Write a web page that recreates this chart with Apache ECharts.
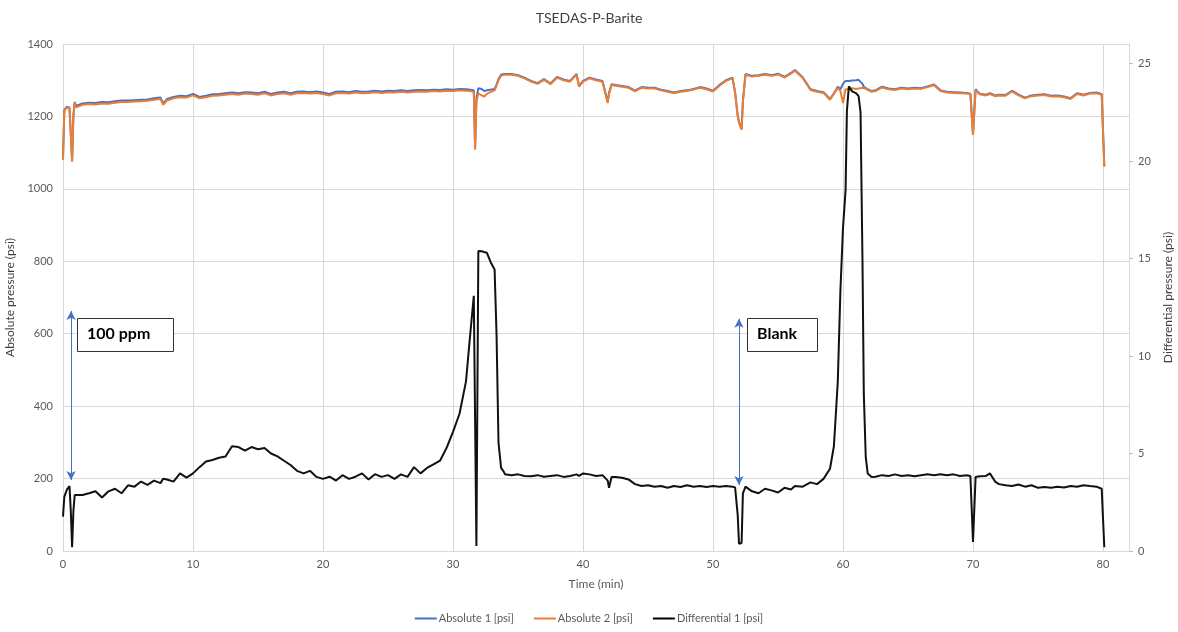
<!DOCTYPE html>
<html>
<head>
<meta charset="utf-8">
<script src="https://cdn.jsdelivr.net/npm/echarts@6/dist/echarts.min.js"></script>
<style>
html,body{margin:0;padding:0;background:#fff;}
#chart{width:1178px;height:632px;}
</style>
</head>
<body>
<div id="chart"></div>
<script>
// Time (min)
const timeMin = [
0,0.1,0.3,0.5,0.6,0.7,0.8,0.9,1,1.5,
2,2.5,3,3.5,4,4.5,5,5.5,6,6.5,
7,7.5,7.7,8,8.5,9,9.5,10,10.5,11,
11.5,12,12.5,13,13.5,14,14.5,15,15.5,16,
16.5,17,17.5,18,18.5,19,19.5,20,20.5,21,
21.5,22,22.5,23,23.5,24,24.5,25,25.5,26,
26.5,27,27.5,28,28.5,29,29.5,30,30.5,31,
31.3,31.6,31.7,31.8,31.95,32.2,32.4,32.6,32.9,33.2,
33.35,33.5,33.7,33.9,34,34.5,35,35.5,36,36.5,
37,37.5,38,38.5,39,39.5,39.7,40,40.5,41,
41.5,41.9,42,42.2,42.5,43,43.5,44,44.5,45,
45.5,46,46.5,47,47.5,48,48.5,49,49.5,50,
50.5,51,51.5,51.7,51.9,52,52.2,52.3,52.5,53,
53.5,54,54.5,55,55.5,56,56.3,56.9,57.5,58,
58.5,59,59.3,59.6,59.8,60,60.2,60.3,60.45,60.7,
61,61.2,61.35,61.5,61.6,61.75,61.9,62.2,62.5,63,
63.5,64,64.5,65,65.5,66,66.5,67,67.5,68,
68.5,69,69.5,69.8,70,70.2,70.5,71,71.3,71.7,
72,72.5,73,73.5,74,74.5,75,75.5,76,76.5,
77,77.5,78,78.5,79,79.5,79.9,80.1
];
// Absolute 1 [psi]
const absolute1 = [
1085,1218,1227,1224,1152,1078,1203,1240,1229,1236,
1238,1237,1240,1239,1242,1244,1244,1245,1246,1247,
1250,1252,1236,1248,1254,1257,1256,1262,1254,1257,
1261,1262,1264,1266,1264,1267,1266,1264,1268,1262,
1266,1268,1264,1268,1269,1267,1269,1266,1262,1268,
1269,1267,1270,1268,1269,1271,1269,1271,1270,1272,
1270,1272,1273,1272,1274,1273,1275,1274,1276,1275,
1274,1272,1115,1250,1278,1276,1270,1272,1274,1276,
1288,1303,1315,1317,1316,1317,1314,1307,1298,1292,
1303,1291,1309,1302,1298,1317,1284,1298,1307,1302,
1298,1240,1265,1289,1287,1284,1281,1271,1281,1279,
1279,1274,1270,1266,1270,1272,1276,1281,1277,1271,
1287,1300,1307,1267,1203,1185,1166,1243,1317,1312,
1314,1317,1314,1318,1309,1320,1328,1308,1275,1270,
1267,1248,1264,1282,1275,1290,1298,1299,1298,1299,
1300,1301,1298,1290,1282,1278,1275,1270,1272,1282,
1277,1275,1279,1277,1279,1278,1283,1288,1272,1268,
1267,1266,1265,1263,1152,1275,1263,1260,1264,1258,
1260,1259,1271,1260,1252,1258,1260,1261,1257,1258,
1255,1250,1264,1260,1265,1266,1262,1064
];
// Absolute 2 [psi]
const absolute2 = [
1080,1215,1225,1222,1150,1075,1200,1238,1225,1232,
1234,1233,1236,1235,1238,1240,1240,1241,1242,1243,
1246,1248,1232,1244,1250,1253,1252,1258,1250,1253,
1257,1258,1260,1262,1260,1263,1262,1260,1264,1258,
1262,1264,1260,1264,1265,1263,1265,1262,1258,1264,
1265,1263,1266,1264,1265,1267,1265,1267,1266,1268,
1266,1268,1269,1268,1270,1269,1271,1270,1272,1271,
1270,1268,1108,1240,1264,1258,1255,1262,1268,1272,
1285,1300,1312,1315,1314,1315,1312,1305,1296,1290,
1301,1289,1307,1300,1296,1315,1282,1296,1305,1300,
1296,1237,1262,1287,1285,1282,1279,1269,1279,1277,
1277,1272,1268,1264,1268,1270,1274,1279,1275,1269,
1285,1298,1305,1264,1200,1182,1163,1240,1315,1310,
1312,1315,1312,1316,1307,1318,1326,1306,1273,1268,
1265,1246,1262,1279,1270,1237,1275,1274,1276,1278,
1276,1277,1278,1279,1278,1276,1273,1268,1270,1280,
1275,1273,1277,1275,1277,1276,1281,1286,1270,1266,
1265,1264,1263,1261,1149,1273,1261,1258,1262,1256,
1258,1257,1269,1258,1250,1256,1258,1259,1255,1256,
1253,1248,1262,1258,1263,1264,1260,1061
];
// Differential 1 [psi]
const differential1 = [
1.76,2.78,3.15,3.33,2.04,0.19,2.04,2.87,2.78,2.87,
2.96,3.06,2.74,3.06,3.19,2.96,3.37,3.30,3.56,3.39,
3.61,3.48,3.70,3.67,3.56,3.98,3.76,3.98,4.30,4.59,
4.67,4.78,4.85,5.37,5.33,5.15,5.33,5.22,5.28,5.00,
4.85,4.63,4.41,4.11,3.98,4.11,3.80,3.70,3.81,3.61,
3.89,3.70,3.81,3.98,3.67,3.94,3.80,3.89,3.70,3.93,
3.80,4.30,3.98,4.26,4.44,4.63,5.28,6.11,7.04,8.70,
10.93,13.09,6.70,0.26,15.39,15.37,15.33,15.30,14.81,14.44,
11.10,5.56,4.26,4.07,3.93,3.89,3.93,3.85,3.83,3.89,
3.81,3.85,3.89,3.80,3.85,3.93,3.85,3.98,3.93,3.85,
3.89,3.61,3.24,3.80,3.80,3.76,3.67,3.43,3.33,3.37,
3.30,3.33,3.24,3.33,3.28,3.37,3.30,3.33,3.28,3.33,
3.30,3.33,3.30,3.26,1.85,0.37,0.41,2.96,3.30,3.06,
2.96,3.19,3.11,3.00,3.24,3.15,3.33,3.30,3.52,3.43,
3.70,4.22,5.37,8.70,13.33,16.57,18.52,22.56,23.83,23.57,
23.48,23.33,22.50,14.81,8.07,4.81,3.98,3.80,3.81,3.89,
3.85,3.93,3.85,3.89,3.83,3.89,3.93,3.89,3.93,3.89,
3.93,3.85,3.89,3.85,0.46,3.80,3.83,3.85,3.98,3.56,
3.43,3.37,3.33,3.41,3.30,3.37,3.24,3.28,3.24,3.30,
3.26,3.33,3.30,3.37,3.33,3.30,3.19,0.19
];
// Annotation arrows: [time, top abs value, bottom abs value]
const arrow100ppm = [0.62, 663, 196];
const arrowBlank = [52.0, 641, 182];
const annotationLabels = ['100 ppm', 'Blank'];

const FONT = 'Lato, "Liberation Sans", sans-serif';
const GRAY = '#595959';
const GRID = '#d9d9d9';

const pair = arr => timeMin.map((t, i) => [t, arr[i]]);

const chart = echarts.init(document.getElementById('chart'), null, {renderer: 'canvas'});
chart.setOption({
  animation: false,
  backgroundColor: '#fff',
  textStyle: {fontFamily: FONT},
  title: {
    text: 'TSEDAS-P-Barite',
    left: 'center',
    top: 6,
    textStyle: {fontFamily: FONT, fontSize: 14, fontWeight: 'normal', color: '#404040'}
  },
  legend: {
    bottom: 3,
    left: 'center',
    icon: 'rect',
    itemWidth: 22,
    itemHeight: 2,
    itemGap: 20,
    textStyle: {fontFamily: FONT, fontSize: 11, color: GRAY, padding: [0, 0, 0, -3]},
    data: ['Absolute 1 [psi]', 'Absolute 2 [psi]', 'Differential 1 [psi]']
  },
  grid: {left: 63, right: 49, top: 44, bottom: 81, containLabel: false, outerBoundsMode: 'none'},
  xAxis: {
    type: 'value',
    min: 0, max: 82, interval: 10,
    name: 'Time (min)',
    nameLocation: 'middle',
    nameGap: 27,
    nameTextStyle: {fontFamily: FONT, fontSize: 12, color: GRAY},
    axisLine: {show: true, lineStyle: {color: GRID}},
    axisTick: {show: false},
    axisLabel: {fontFamily: FONT, fontSize: 11, color: GRAY, margin: 8, showMaxLabel: false,
      formatter: v => (v % 10 === 0 ? String(v) : '')},
    splitLine: {show: true, lineStyle: {color: GRID, width: 1}}
  },
  yAxis: [
    {
      type: 'value',
      min: 0, max: 1400, interval: 200,
      name: 'Absolute pressure (psi)',
      nameLocation: 'middle',
      nameGap: 40,
      nameTextStyle: {fontFamily: FONT, fontSize: 12, color: '#404040'},
      axisLine: {show: false},
      axisTick: {show: false},
      axisLabel: {fontFamily: FONT, fontSize: 11, color: GRAY, margin: 10, formatter: v => String(v)},
      splitLine: {show: true, lineStyle: {color: GRID, width: 1}}
    },
    {
      type: 'value',
      min: 0, max: 26, interval: 5,
      position: 'right',
      name: 'Differential pressure (psi)',
      nameLocation: 'middle',
      nameGap: 30,
      nameRotate: 90,
      nameTextStyle: {fontFamily: FONT, fontSize: 12, color: '#404040'},
      axisLine: {show: true, lineStyle: {color: GRID}},
      axisTick: {show: true, length: 4, lineStyle: {color: '#bfbfbf'}},
      axisLabel: {fontFamily: FONT, fontSize: 11, color: GRAY, margin: 9, showMaxLabel: false,
        formatter: v => (v % 5 === 0 ? String(v) : '')},
      splitLine: {show: false}
    }
  ],
  series: [
    {
      name: 'Absolute 1 [psi]',
      type: 'line',
      yAxisIndex: 0,
      showSymbol: false,
      symbol: 'none',
      color: '#4472C4',
      lineStyle: {color: '#4472C4', width: 2},
      data: pair(absolute1),
      z: 2,
      markLine: {
        silent: true,
        symbol: ['arrow', 'arrow'],
        symbolSize: [7, 9],
        label: {show: false},
        lineStyle: {color: '#4472C4', width: 1, type: 'solid'},
        data: [
          [{coord: [arrow100ppm[0], arrow100ppm[1]]}, {coord: [arrow100ppm[0], arrow100ppm[2]]}],
          [{coord: [arrowBlank[0], arrowBlank[1]]}, {coord: [arrowBlank[0], arrowBlank[2]]}]
        ]
      }
    },
    {
      name: 'Absolute 2 [psi]',
      type: 'line',
      yAxisIndex: 0,
      showSymbol: false,
      symbol: 'none',
      color: '#ED7D31',
      lineStyle: {color: '#ED7D31', width: 2},
      data: pair(absolute2),
      z: 3
    },
    {
      name: 'Differential 1 [psi]',
      type: 'line',
      yAxisIndex: 1,
      showSymbol: false,
      symbol: 'none',
      color: '#000000',
      lineStyle: {color: '#111111', width: 2},
      data: pair(differential1),
      z: 4
    }
  ],
  graphic: [
    {type: 'rect', left: 77, top: 318, z: 100, shape: {width: 96, height: 33},
      style: {fill: '#ffffff', stroke: '#333', lineWidth: 1}},
    {type: 'text', left: 87, top: 326, z: 101,
      style: {text: annotationLabels[0], font: 'bold 16px ' + FONT, fill: '#000'}},
    {type: 'rect', left: 747, top: 318, z: 100, shape: {width: 70, height: 33},
      style: {fill: '#ffffff', stroke: '#333', lineWidth: 1}},
    {type: 'text', left: 757, top: 326, z: 101,
      style: {text: annotationLabels[1], font: 'bold 16px ' + FONT, fill: '#000'}}
  ]
});
</script>
</body>
</html>
